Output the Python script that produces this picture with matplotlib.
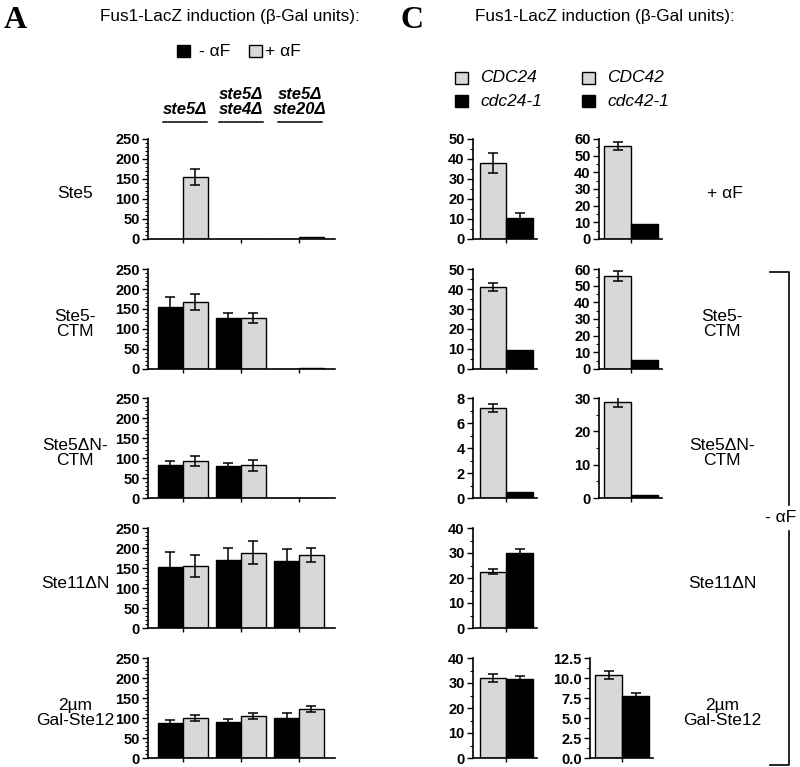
import numpy as np
import matplotlib
matplotlib.use("Agg")
import matplotlib.pyplot as plt
from matplotlib.ticker import MultipleLocator, FormatStrFormatter

plt.rcParams['font.family'] = ['Liberation Sans', 'DejaVu Sans']
plt.rcParams['font.weight'] = 'bold'

# ---- panel A data ----
a_rows = ['Ste5', 'Ste5-\nCTM', 'Ste5\u0394N-\nCTM', 'Ste11\u0394N', '2\u00b5m\nGal-Ste12']
a_groups = ['ste5\u0394', 'ste5\u0394\nste4\u0394', 'ste5\u0394\nste20\u0394']
a_minus = [[1, 1, 1], [155, 127, 1], [82, 81, 1], [153, 170, 168], [87, 90, 100]]
a_minus_err = [[0, 0, 0], [25, 12, 0], [10, 6, 0], [36, 29, 29], [9, 8, 12]]
a_plus = [[155, 1, 4], [167, 127, 2], [93, 82, 1], [155, 188, 183], [100, 105, 123]]
a_plus_err = [[20, 0, 0], [20, 12, 0], [12, 14, 0], [28, 29, 17], [7, 8, 8]]

# ---- panel C data ----
c_rows = ['+ \u03b1F', 'Ste5-\nCTM', 'Ste5\u0394N-\nCTM', 'Ste11\u0394N', '2\u00b5m\nGal-Ste12']
cdc24 = [38, 41, 7.2, 22.5, 32]
cdc24_err = [5, 2, 0.35, 1, 1.5]
cdc24_1 = [10.5, 9.3, 0.45, 30.2, 31.5]
cdc24_1_err = [2.5, 0, 0, 1.5, 1.5]
cdc42 = [56, 56, 28.8, None, 10.4]
cdc42_err = [2.5, 3, 1.5, None, 0.5]
cdc42_1 = [9, 5.5, 0.8, None, 7.8]
cdc42_1_err = [0, 0, 0, None, 0.3]
c24_ymax = [50, 50, 8, 40, 40]
c24_step = [10, 10, 2, 10, 10]
c42_ymax = [60, 60, 30, None, 12.5]
c42_step = [10, 10, 10, None, 2.5]

W, H = 800, 767
GRAY = '#d8d8d8'
fig = plt.figure(figsize=(W / 100, H / 100), dpi=100)


def px_axes(x0, y0, w, h):
    return fig.add_axes([x0 / W, 1 - (y0 + h) / H, w / W, h / H])


def ftext(x, y, s, **kw):
    fig.text(x / W, 1 - y / H, s, **kw)


def style(ax, ymax, step, fmt=None):
    for s in ['top', 'right']:
        ax.spines[s].set_visible(False)
    ax.spines['left'].set_linewidth(1.2)
    ax.spines['bottom'].set_linewidth(1.2)
    ax.set_ylim(0, ymax)
    ax.yaxis.set_major_locator(MultipleLocator(step))
    ax.yaxis.set_minor_locator(MultipleLocator(step / (5 if ymax > 100 else 2)))
    if fmt:
        ax.yaxis.set_major_formatter(FormatStrFormatter(fmt))
    ax.tick_params(axis='y', which='major', length=4, width=1, labelsize=10.5, pad=2)
    ax.tick_params(axis='y', which='minor', length=2, width=0.8)
    ax.tick_params(axis='x', length=3, width=1, labelbottom=False)
    for lb in ax.get_yticklabels():
        lb.set_fontweight('bold')


def errs(ax, x, y, e):
    for xi, yi, ei in zip(x, y, e):
        if ei:
            ax.errorbar(xi, yi, yerr=ei, fmt='none', ecolor='black',
                        elinewidth=1.1, capsize=3.5, capthick=1.1, zorder=3)


row_tops = [139, 269, 398, 528, 658]
row_h = 100
TXT = 12.5

# ---- panel A ----
x = np.arange(3)
bw = 0.43
for r in range(5):
    ax = px_axes(148, row_tops[r], 187, row_h)
    ax.bar(x - bw / 2, a_minus[r], bw, color='black', edgecolor='black', linewidth=1)
    ax.bar(x + bw / 2, a_plus[r], bw, color=GRAY, edgecolor='black', linewidth=1)
    errs(ax, x - bw / 2, a_minus[r], a_minus_err[r])
    errs(ax, x + bw / 2, a_plus[r], a_plus_err[r])
    ax.set_xlim(-0.6, 2.62)
    ax.set_xticks(x)
    style(ax, 250, 50)
    ftext(75, row_tops[r] + row_h / 2 + 5, a_rows[r], ha='center', va='center',
          fontsize=TXT, fontweight='normal', linespacing=1.05)

ftext(4, 6, 'A', fontsize=23, fontweight='bold', family='Liberation Serif', va='top')
ftext(230, 17, 'Fus1-LacZ induction (\u03b2-Gal units):', ha='center', va='center',
      fontsize=12.3, fontweight='normal')

# overlay axes in pixel units for legend boxes, underlines and bracket
lax = px_axes(0, 0, W, H)
lax.set_xlim(0, W)
lax.set_ylim(H, 0)
lax.axis('off')
lax.add_patch(plt.Rectangle((177, 45), 13, 12, facecolor='black', edgecolor='black'))
ftext(199, 51, '- \u03b1F', va='center', fontsize=TXT, fontweight='normal')
lax.add_patch(plt.Rectangle((249, 45), 13, 12, facecolor=GRAY, edgecolor='black', linewidth=1))
ftext(265, 51, '+ \u03b1F', va='center', fontsize=TXT, fontweight='normal')

# group headers A
gx = [185, 241, 300]
for g, cx in zip(a_groups, gx):
    ftext(cx, 117, g, ha='center', va='bottom', fontsize=12, style='italic',
          fontweight='bold', linespacing=1.0)
    lax.plot([cx - 22, cx + 22], [122, 122], color='black', lw=1.1)

# ---- panel C ----
ftext(400, 6, 'C', fontsize=23, fontweight='bold', family='Liberation Serif', va='top')
ftext(605, 17, 'Fus1-LacZ induction (\u03b2-Gal units):', ha='center', va='center',
      fontsize=12.3, fontweight='normal')
for sx, lab_wt, lab_mut in [(455, 'CDC24', 'cdc24-1'), (582, 'CDC42', 'cdc42-1')]:
    lax.add_patch(plt.Rectangle((sx, 72), 13, 12, facecolor=GRAY, edgecolor='black', linewidth=1))
    lax.add_patch(plt.Rectangle((sx, 95), 13, 12, facecolor='black', edgecolor='black'))
    ftext(sx + 25, 78, lab_wt, va='center', fontsize=TXT, style='italic', fontweight='normal')
    ftext(sx + 25, 101, lab_mut, va='center', fontsize=TXT, style='italic', fontweight='normal')

for r in range(5):
    ax = px_axes(473, row_tops[r], 64, row_h)
    ax.bar([-0.5], [cdc24[r]], 1, color=GRAY, edgecolor='black', linewidth=1)
    ax.bar([0.5], [cdc24_1[r]], 1, color='black', edgecolor='black', linewidth=1)
    errs(ax, [-0.5], [cdc24[r]], [cdc24_err[r]])
    errs(ax, [0.5], [cdc24_1[r]], [cdc24_1_err[r]])
    ax.set_xlim(-1.26, 1.15)
    ax.set_xticks([0])
    style(ax, c24_ymax[r], c24_step[r])

    if cdc42[r] is not None:
        x0 = 590 if r == 4 else 599
        ax2 = px_axes(x0, row_tops[r], 63, row_h)
        ax2.bar([-0.5], [cdc42[r]], 1, color=GRAY, edgecolor='black', linewidth=1)
        ax2.bar([0.5], [cdc42_1[r]], 1, color='black', edgecolor='black', linewidth=1)
        errs(ax2, [-0.5], [cdc42[r]], [cdc42_err[r]])
        errs(ax2, [0.5], [cdc42_1[r]], [cdc42_1_err[r]])
        ax2.set_xlim(-1.19, 1.15)
        ax2.set_xticks([0])
        style(ax2, c42_ymax[r], c42_step[r], '%.1f' if r == 4 else None)

    cx = 725 if r == 0 else 722
    ftext(cx, row_tops[r] + row_h / 2 + 5, c_rows[r], ha='center', va='center',
          fontsize=TXT, fontweight='normal', linespacing=1.05)

# bracket for -aF
lax.plot([770, 789, 789], [272, 272, 505], color='black', lw=1.2)
lax.plot([789, 789, 770], [531, 765, 765], color='black', lw=1.2)
ftext(781, 518, '- \u03b1F', ha='center', va='center', fontsize=TXT, fontweight='normal')

fig.savefig('out.png', dpi=100, facecolor='white')
